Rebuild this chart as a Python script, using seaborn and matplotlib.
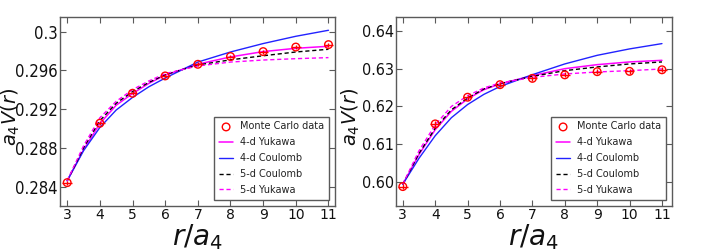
import numpy as np
import pandas as pd
import matplotlib
matplotlib.use("Agg")
import matplotlib.pyplot as plt
from matplotlib import font_manager as fm
import seaborn as sns

# ---------------- data ----------------
r_mc = [3, 4, 5, 6, 7, 8, 9, 10, 11]
r_fit = [3, 3.5, 4, 4.5, 5, 5.5, 6, 7, 8, 9, 10, 11]

# left panel
mc_left = [0.28441, 0.29054, 0.29363, 0.29542, 0.29662, 0.29742, 0.29793, 0.29840, 0.29865]
yuk4_left = [0.2846, 0.2878, 0.2905, 0.2924, 0.2936, 0.29465, 0.2955, 0.29663, 0.29738, 0.29793, 0.29827, 0.29848]
coul4_left = [0.2846, 0.2877, 0.2901, 0.2919, 0.2932, 0.2943, 0.2952, 0.29685, 0.29789, 0.29876, 0.29951, 0.30013]
coul5_left = [0.2846, 0.2880, 0.2908, 0.2926, 0.2938, 0.29475, 0.29555, 0.29655, 0.29708, 0.29750, 0.29789, 0.29817]
yuk5_left = [0.2846, 0.2882, 0.2911, 0.2928, 0.2940, 0.2949, 0.29565, 0.29645, 0.29685, 0.29706, 0.29720, 0.29731]
yticks_left = [0.284, 0.288, 0.292, 0.296, 0.3]
yticklabels_left = ["0.284", "0.288", "0.292", "0.296", "0.3"]

# right panel
mc_right = [0.59867, 0.61535, 0.62245, 0.62579, 0.62747, 0.62840, 0.62925, 0.62933, 0.62975]
yuk4_right = [0.5993, 0.6072, 0.6138, 0.6187, 0.6220, 0.62445, 0.6260, 0.62819, 0.63005, 0.63112, 0.63184, 0.63227]
coul4_right = [0.5993, 0.6062, 0.6122, 0.6170, 0.6205, 0.6232, 0.6253, 0.62845, 0.63131, 0.63360, 0.63531, 0.63672]
coul5_right = [0.5993, 0.6075, 0.6142, 0.6191, 0.62224, 0.62464, 0.62606, 0.62800, 0.62952, 0.63051, 0.63131, 0.63184]
yuk5_right = [0.5993, 0.6082, 0.6151, 0.6200, 0.62285, 0.6249, 0.62624, 0.62773, 0.62864, 0.62917, 0.62952, 0.62997]
yticks_right = [0.60, 0.61, 0.62, 0.63, 0.64]
yticklabels_right = ["0.60", "0.61", "0.62", "0.63", "0.64"]

xticks = [3, 4, 5, 6, 7, 8, 9, 10, 11]
labels = ["Monte Carlo data", "4-d Yukawa", "4-d Coulomb", "5-d Coulomb", "5-d Yukawa"]

# ---------------- style ----------------
sns.set_theme(style="ticks")
plt.rcParams["font.family"] = ["DejaVu Sans"]
plt.rcParams["mathtext.fontset"] = "dejavusans"
GRAY = "#5a5a5a"


def narrow_font():
    """Pick a condensed face for the y tick labels if one is installed."""
    for fam, stretch in [("Liberation Sans Narrow", "normal"),
                         ("DejaVu Sans", "condensed"),
                         ("Roboto Condensed", "normal"),
                         ("Open Sans Condensed", "normal")]:
        try:
            path = fm.findfont(fm.FontProperties(family=fam, stretch=stretch),
                               fallback_to_default=False)
        except Exception:
            continue
        low = path.lower()
        if "narrow" in low or "condensed" in low:
            return fm.FontProperties(fname=path), True
    return fm.FontProperties(family="Liberation Sans"), False


YFONT, IS_NARROW = narrow_font()

fig = plt.figure(figsize=(7.06, 2.5), dpi=100)
ax1 = fig.add_axes([60 / 706, 44 / 250, 275 / 706, 189 / 250])
ax2 = fig.add_axes([396 / 706, 44 / 250, 276 / 706, 189 / 250])


def draw(ax, mc, yuk4, coul4, coul5, yuk5, yerr, ylim, xlim, yt, ytl, ylab_x, ytick_size):
    df = pd.DataFrame({"r": r_fit, "yuk4": yuk4, "coul4": coul4,
                       "coul5": coul5, "yuk5": yuk5})
    sns.lineplot(data=df, x="r", y="yuk4", ax=ax, color="#ff00ff", lw=1.1,
                 label=labels[1], zorder=3)
    sns.lineplot(data=df, x="r", y="coul4", ax=ax, color="#2222ff", lw=1.0,
                 label=labels[2], zorder=3)
    sns.lineplot(data=df, x="r", y="coul5", ax=ax, color="black", lw=1.0,
                 linestyle=(0, (3, 2)), label=labels[3], zorder=3)
    sns.lineplot(data=df, x="r", y="yuk5", ax=ax, color="#ff00ff", lw=1.0,
                 linestyle=(0, (3, 2)), label=labels[4], zorder=3)
    ax.errorbar(r_mc, mc, xerr=0.15, yerr=yerr, fmt="none", ecolor="red",
                elinewidth=1.0, capsize=0, zorder=4)
    sns.scatterplot(x=r_mc, y=mc, ax=ax, marker="o", s=30, facecolors="none",
                    edgecolors="red", linewidths=1.0, label=labels[0], zorder=5)

    ax.set_xlim(*xlim)
    ax.set_ylim(*ylim)
    ax.set_xticks(xticks, labels=[str(v) for v in xticks], fontsize=10)
    ax.set_yticks(yt, labels=ytl)
    for t in ax.get_yticklabels():
        t.set_fontproperties(YFONT)
        t.set_fontsize(ytick_size)
    ax.tick_params(direction="in", top=True, right=True, length=4, width=0.8,
                   color=GRAY, pad=1.5, labelcolor="#111111")
    for s in ax.spines.values():
        s.set_color(GRAY)
        s.set_linewidth(1.0)

    ax.set_xlabel(r"$r/a_4$", fontsize=20, color="#111111")
    ax.xaxis.set_label_coords(0.5, -0.085)
    ax.set_ylabel(r"$a_4V(r)$", fontsize=14, color="#111111")
    ax.yaxis.set_label_coords(ylab_x, 0.47)

    handles, labs = ax.get_legend_handles_labels()
    hmap = dict(zip(labs, handles))
    leg = ax.legend([hmap[l] for l in labels], labels, loc="lower right",
                    fontsize=7, frameon=True, fancybox=False, framealpha=1,
                    edgecolor=GRAY, borderpad=0.5, labelspacing=0.6,
                    handlelength=1.4, handletextpad=0.7, borderaxespad=0.65)
    leg.get_frame().set_linewidth(1.0)
    for t in leg.get_texts():
        t.set_color("#222222")


ys_l = 12 if IS_NARROW else 9
ys_r = 11.5 if IS_NARROW else 10
draw(ax1, mc_left, yuk4_left, coul4_left, coul5_left, yuk5_left, 0.0002,
     (0.282, 0.3015), (2.78, 11.2), yticks_left, yticklabels_left, -0.138, ys_l)
draw(ax2, mc_right, yuk4_right, coul4_right, coul5_right, yuk5_right, 0.0007,
     (0.5935, 0.6438), (2.79, 11.31), yticks_right, yticklabels_right, -0.122, ys_r)

fig.savefig("out.png", dpi=100)
